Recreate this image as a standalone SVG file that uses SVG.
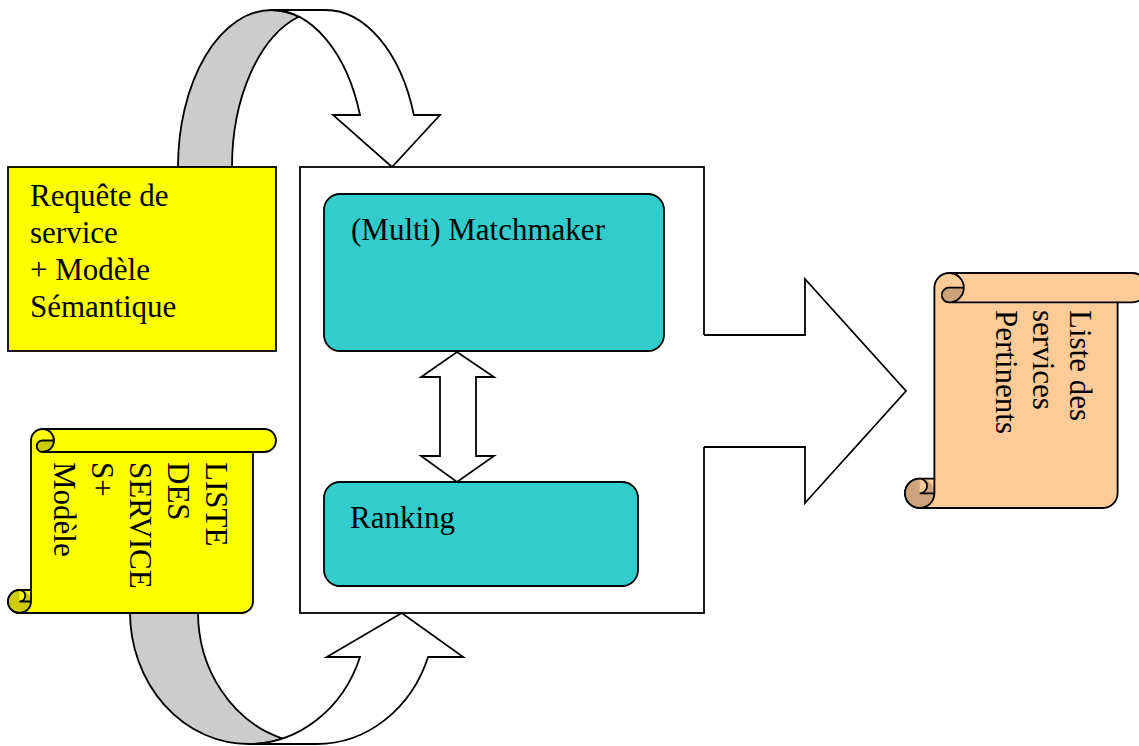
<svg xmlns="http://www.w3.org/2000/svg" width="1139" height="746" viewBox="0 0 1139 746">
<style>
.ln{stroke:#000;stroke-width:1.8;stroke-linejoin:miter;fill:none}
.wf{fill:#fff;stroke:#000;stroke-width:1.8}
.gf{fill:#ccc;stroke:#000;stroke-width:1.8}
.t{font-family:"Liberation Serif","Times New Roman",serif;font-size:31px;fill:#000}
.cy{fill:#33cccc;stroke:#000;stroke-width:1.8}
</style>
<rect width="1139" height="746" fill="#fff"/>
<g id="connectors">
  <g id="arrow-top">
    <path class="gf" d="M178,167 A93.6,157 0 0 1 271.6,10 A93.6,157 0 0 1 298.6,16.7 A93.6,157 0 0 0 232,167 Z"/>
    <path class="wf" d="M271.6,10 A93.6,157 0 0 1 360,115 L333,115 L392,167 L440,115 L413.9,115 A93.6,157 0 0 0 325.6,10 Z"/>
  </g>
  <g id="arrow-bottom">
    <path class="gf" d="M130,612 A118.6,132 0 0 0 248.6,744 A118.6,132 0 0 0 282.6,738.5 A118.6,132 0 0 1 198,612 Z"/>
    <path class="wf" d="M248.6,744 A118.6,132 0 0 0 360,657 L326.7,657 L401.7,613 L463.3,657 L428.1,657 A118.6,132 0 0 1 316.6,744 Z"/>
  </g>
</g>
<g id="main-box">
  <rect class="wf" x="300" y="167" width="404" height="446"/>
</g>
<g id="connector-out">
  <polygon fill="#fff" points="702,335 805,335 805,279 906,391 805,503 805,447 702,447"/>
  <path class="ln" d="M704,335 L805,335 L805,279 L906,391 L805,503 L805,447 L704,447"/>
</g>
<g id="matchmaker">
  <rect class="cy" x="324" y="194" width="340" height="157" rx="16" ry="16"/>
  <text class="t" x="351" y="240">(Multi) Matchmaker</text>
</g>
<g id="ranking">
  <rect class="cy" x="324" y="482" width="314" height="104" rx="16" ry="16"/>
  <text class="t" x="350" y="528">Ranking</text>
</g>
<g id="connector-double">
  <polygon class="wf" points="457,352 494,377 476,377 476,456 494,456 457,482 421,456 440,456 440,377 421,377"/>
</g>
<g id="requete">
  <rect x="8" y="167" width="268" height="184" fill="#ffff00" stroke="#000" stroke-width="1.8"/>
  <text class="t"><tspan x="30" y="206">Requête de</tspan><tspan x="30" y="243">service</tspan><tspan x="30" y="280">+ Modèle</tspan><tspan x="30" y="317">Sémantique</tspan></text>
</g>
<g id="liste-services">
  <path d="M31,590 L31,440.5 A11.5,11.5 0 0 1 42.5,429 L264.5,429 A11.5,11.5 0 0 1 264.5,452 L253,452 L253,601.5 A11.5,11.5 0 0 1 241.5,613 L19.5,613 A11.5,11.5 0 0 1 19.5,590 Z" fill="#ffff00" stroke="#000" stroke-width="1.8"/>
  <path d="M54,440.5 A11.5,11.5 0 0 1 42.5,452 A5.75,5.75 0 0 1 42.5,440.5 Z" fill="#cccc00"/>
  <circle cx="19.5" cy="601.5" r="11.5" fill="#cccc00"/>
  <path d="M19.5,590 A5.75,5.75 0 0 1 19.5,601.5 Z" fill="#ffff00"/>
  <path class="ln" d="M42.5,429 A11.5,11.5 0 0 1 42.5,452 A5.75,5.75 0 0 1 42.5,440.5 L54,440.5 M253,452 L42.5,452 M19.5,590 A5.75,5.75 0 0 1 19.5,601.5 L31,601.5 M19.5,613 A11.5,11.5 0 0 0 31,601.5 L31,590 M19.5,613 A11.5,11.5 0 0 1 19.5,590"/>
  <text class="t" transform="translate(206,462) rotate(90)"><tspan x="0" y="0">LISTE</tspan><tspan x="0" dy="38">DES</tspan><tspan x="0" dy="38">SERVICE</tspan><tspan x="0" dy="38">S+</tspan><tspan x="0" dy="38">Modèle</tspan></text>
</g>
<g id="liste-pertinents">
  <path d="M934.4,478.6 L934.4,287.7 A14.7,14.7 0 0 1 949.1,273 L1132.3,273 A14.7,14.7 0 0 1 1132.3,302.4 L1117.6,302.4 L1117.6,493.3 A14.7,14.7 0 0 1 1102.9,508 L919.7,508 A14.7,14.7 0 0 1 919.7,478.6 Z" fill="#ffcc99" stroke="#000" stroke-width="1.8"/>
  <path d="M963.8,287.7 A14.7,14.7 0 0 1 949.1,302.4 A7.35,7.35 0 0 1 949.1,287.7 Z" fill="#cca37a"/>
  <circle cx="919.7" cy="493.3" r="14.7" fill="#cca37a"/>
  <path d="M919.7,478.6 A7.35,7.35 0 0 1 919.7,493.3 Z" fill="#ffcc99"/>
  <path class="ln" d="M949.1,273 A14.7,14.7 0 0 1 949.1,302.4 A7.35,7.35 0 0 1 949.1,287.7 L963.8,287.7 M1117.6,302.4 L949.1,302.4 M919.7,478.6 A7.35,7.35 0 0 1 919.7,493.3 L934.4,493.3 M919.7,508 A14.7,14.7 0 0 0 934.4,493.3 L934.4,478.6 M919.7,508 A14.7,14.7 0 0 1 919.7,478.6"/>
  <text class="t" transform="translate(1070,310) rotate(90)"><tspan x="0" y="0">Liste des</tspan><tspan x="0" dy="37">services</tspan><tspan x="0" dy="37">Pertinents</tspan></text>
</g>
</svg>
